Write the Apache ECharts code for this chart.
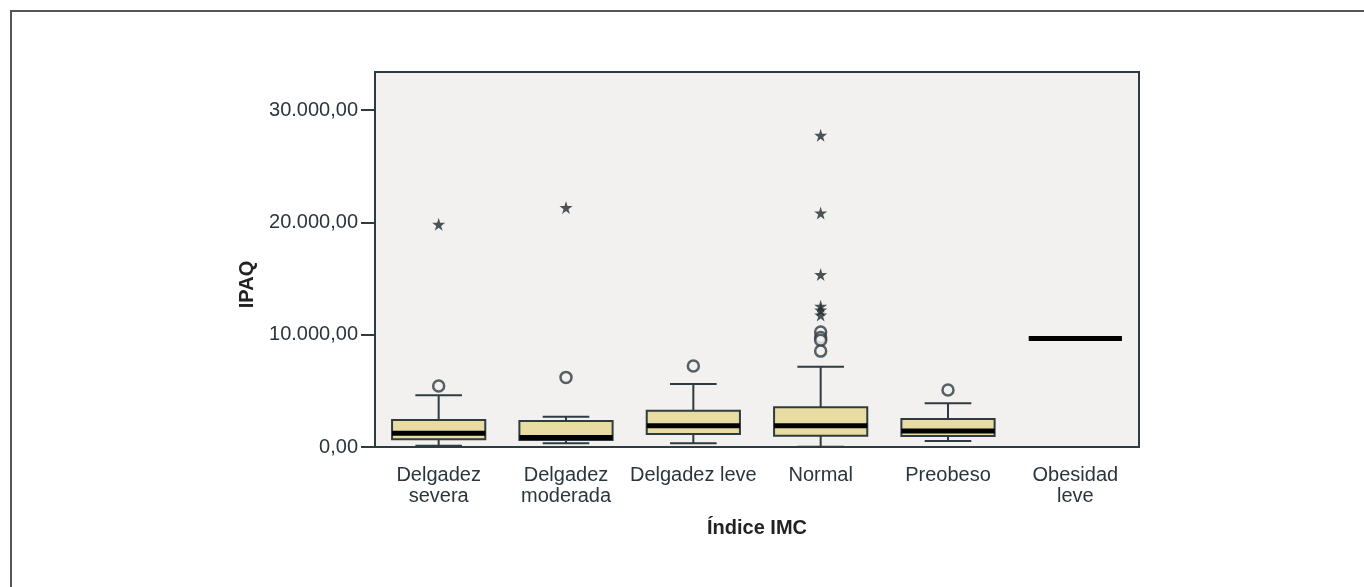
<!DOCTYPE html>
<html>
<head>
<meta charset="utf-8">
<script src="https://cdn.jsdelivr.net/npm/echarts@6/dist/echarts.min.js"></script>
<style>
  html, body { margin: 0; padding: 0; background: #fff; }
  #chart { width: 1364px; height: 587px; }
</style>
</head>
<body>
<div id="chart"></div>
<script>
// categorias del indice IMC
const categorias = ["Delgadez\nsevera", "Delgadez\nmoderada", "Delgadez leve", "Normal", "Preobeso", "Obesidad\nleve"];

// resumen de cada caja (IPAQ)
const bigoteInf = [116, 330, 330, 20, 534, 9670];
const q1 = [685, 623, 1157, 1005, 979, 9670];
const mediana = [1219, 845, 1895, 1895, 1423, 9670];
const q3 = [2402, 2313, 3230, 3532, 2491, 9670];
const bigoteSup = [4600, 2696, 5605, 7144, 3888, 9670];

// atipicos (circulos) y extremos (estrellas): [categoria, valor]
const atipicos = [[0, 5430], [1, 6200], [2, 7210], [3, 10250], [3, 9750], [3, 9500], [3, 8540], [4, 5070]];
const extremos = [[0, 19840], [1, 21330], [3, 27760], [3, 20850], [3, 15360], [3, 12540], [3, 12200], [3, 11750]];

const ticksY = [0, 10000, 20000, 30000];

const colorLinea = "#2e3b40";
const colorCaja = "#e8dca2";
const fuente = "Liberation Sans";

function formatoES(v) {
    const entero = Math.round(v).toString().replace(/\B(?=(\d{3})+(?!\d))/g, ".");
    return entero + ",00";
}

const cajas = categorias.map((c, i) => [i, bigoteInf[i], q1[i], mediana[i], q3[i], bigoteSup[i]]);

function renderCaja(params, api) {
    const x = api.value(0);
    const pLow = api.coord([x, api.value(1)]);
    const pQ1 = api.coord([x, api.value(2)]);
    const pMed = api.coord([x, api.value(3)]);
    const pQ3 = api.coord([x, api.value(4)]);
    const pHigh = api.coord([x, api.value(5)]);
    const half = api.size([1, 0])[0] * 0.366;
    const cap = half / 2;
    const cx = pMed[0];
    const lineStyle = { stroke: colorLinea, lineWidth: 2 };
    const hijos = [];

    if (api.value(1) !== api.value(5)) {
        hijos.push({ type: "line", shape: { x1: cx, y1: pQ3[1], x2: cx, y2: pHigh[1] }, style: lineStyle });
        hijos.push({ type: "line", shape: { x1: cx, y1: pQ1[1], x2: cx, y2: pLow[1] }, style: lineStyle });
        hijos.push({ type: "line", shape: { x1: cx - cap, y1: pHigh[1], x2: cx + cap, y2: pHigh[1] }, style: lineStyle });
        hijos.push({ type: "line", shape: { x1: cx - cap, y1: pLow[1], x2: cx + cap, y2: pLow[1] }, style: lineStyle });
        hijos.push({
            type: "rect",
            shape: { x: cx - half, y: pQ3[1], width: half * 2, height: pQ1[1] - pQ3[1] },
            style: { fill: colorCaja, stroke: colorLinea, lineWidth: 2 }
        });
    }
    hijos.push({
        type: "line",
        shape: { x1: cx - half, y1: pMed[1], x2: cx + half, y2: pMed[1] },
        style: { stroke: "#000", lineWidth: 5 }
    });
    return { type: "group", children: hijos };
}

const chart = echarts.init(document.getElementById("chart"));

chart.setOption({
    backgroundColor: "#fff",
    animation: false,
    graphic: [{
        type: "rect",
        shape: { x: 11, y: 11, width: 1500, height: 800 },
        style: { fill: "none", stroke: "#555", lineWidth: 2 },
        silent: true
    }],
    grid: {
        left: 375, right: 225, top: 72, bottom: 140,
        show: true,
        backgroundColor: "#f2f1ef",
        borderColor: colorLinea,
        borderWidth: 2
    },
    xAxis: {
        type: "category",
        data: categorias,
        name: "Índice IMC",
        nameLocation: "middle",
        nameGap: 71,
        nameTextStyle: { fontFamily: fuente, fontSize: 20, fontWeight: "bold", color: "#222" },
        axisLine: { lineStyle: { color: colorLinea, width: 2 } },
        axisTick: { alignWithLabel: true, length: 14, lineStyle: { color: colorLinea, width: 2 } },
        axisLabel: {
            interval: 0, margin: 18,
            fontFamily: fuente, fontSize: 20, lineHeight: 21, color: "#2a363c"
        },
        splitLine: { show: false }
    },
    yAxis: {
        type: "value",
        min: 0,
        max: 33400,
        interval: 10000,
        name: "IPAQ",
        nameLocation: "middle",
        nameGap: 118,
        nameTextStyle: { fontFamily: fuente, fontSize: 20, fontWeight: "bold", color: "#222", padding: [0, 50, 0, 0] },
        axisLine: { show: true, lineStyle: { color: colorLinea, width: 2 } },
        axisTick: { show: true, length: 14, customValues: ticksY, lineStyle: { color: colorLinea, width: 2 } },
        axisLabel: {
            margin: 17, customValues: ticksY,
            fontFamily: fuente, fontSize: 20, color: "#2a363c",
            formatter: formatoES
        },
        splitLine: { show: false }
    },
    series: [
        {
            type: "custom",
            renderItem: renderCaja,
            data: cajas,
            encode: { x: 0, y: [1, 2, 3, 4, 5] },
            z: 2
        },
        {
            type: "scatter",
            data: atipicos,
            symbol: "circle",
            symbolSize: 11,
            itemStyle: { color: "#f2f1ef", borderColor: colorLinea, borderWidth: 2.5 },
            z: 3
        },
        {
            type: "scatter",
            data: extremos,
            symbol: "path://M50,0 L61,35 L98,35 L68,57 L79,91 L50,70 L21,91 L32,57 L2,35 L39,35 Z",
            symbolSize: 13,
            itemStyle: { color: "#1f2a2e" },
            z: 3
        }
    ]
});
</script>
</body>
</html>
